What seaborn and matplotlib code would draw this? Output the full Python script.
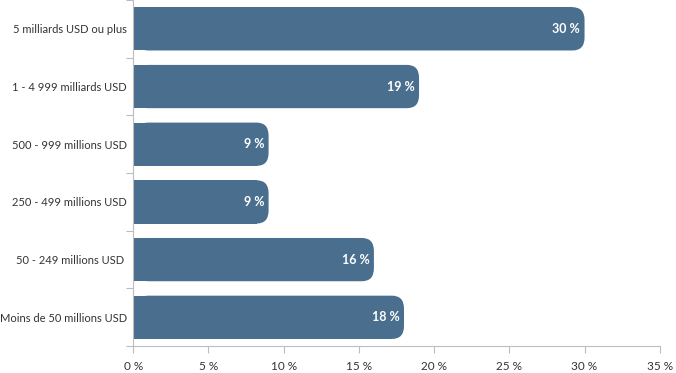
import matplotlib

matplotlib.use("Agg")

import matplotlib.pyplot as plt
import pandas as pd
import seaborn as sns
from matplotlib.patches import FancyBboxPatch
from matplotlib.ticker import FixedLocator

CATEGORIES = [
    "5 milliards USD ou plus",
    "1 - 4 999 milliards USD",
    "500 - 999 millions USD",
    "250 - 499 millions USD",
    "50 - 249 millions USD ",
    "Moins de 50 millions USD",
]
VALUES = [30, 19, 9, 9, 16, 18]
X_TICKS = [0, 5, 10, 15, 20, 25, 30, 35]

BAR_COLOR = "#4a6e8e"
AXIS_COLOR = "#bdbdbd"
TEXT_COLOR = "#333333"


def main():
    sns.set_theme(style="white")
    plt.rcParams["font.family"] = ["Lato", "DejaVu Sans"]

    df = pd.DataFrame({"cat": CATEGORIES, "val": VALUES})
    fig = plt.figure(figsize=(6.76, 3.73), dpi=100)
    ax = fig.add_axes([0.197, 0.072, 0.779, 0.928])

    sns.barplot(data=df, x="val", y="cat", orient="h", color=BAR_COLOR,
                saturation=1, width=0.75, ax=ax)

    # rounded right end: shorten the plain bar, lay a rounded box over it
    r = 0.8
    for patch, val in zip(ax.patches, VALUES):
        y0, h = patch.get_y(), patch.get_height()
        patch.set_width(val - r)
        patch.set_edgecolor("none")
        rb = FancyBboxPatch((0.2, y0), val - 0.2, h,
                            boxstyle=f"round,pad=0,rounding_size={r}",
                            mutation_aspect=0.28, facecolor=BAR_COLOR,
                            edgecolor="none", zorder=patch.get_zorder())
        ax.add_patch(rb)
        ax.text(val - 0.3, y0 + h / 2, f"{val} %", ha="right", va="center",
                color="white", fontsize=9, fontweight="bold")

    ax.set_xlim(0, 35)
    ax.set_ylim(len(CATEGORIES) - 0.5, -0.5)
    ax.set_xticks(X_TICKS)
    ax.set_xticklabels([f"{t} %" for t in X_TICKS])
    ax.set_xlabel("")
    ax.set_ylabel("")

    ax.yaxis.set_minor_locator(FixedLocator([i - 0.5 for i in range(len(CATEGORIES) + 1)]))
    ax.tick_params(axis="y", which="major", length=0, pad=4.5, labelsize=8, labelcolor=TEXT_COLOR)
    ax.tick_params(axis="y", which="minor", length=5, width=0.8, color=AXIS_COLOR, left=True)
    ax.tick_params(axis="x", length=5, width=0.8, color=AXIS_COLOR, bottom=True,
                   pad=6, labelsize=8.5, labelcolor=TEXT_COLOR)

    for side in ["top", "right"]:
        ax.spines[side].set_visible(False)
    for side in ["left", "bottom"]:
        ax.spines[side].set_color(AXIS_COLOR)
        ax.spines[side].set_linewidth(0.8)

    fig.savefig("out.png", dpi=100)


if __name__ == "__main__":
    main()
